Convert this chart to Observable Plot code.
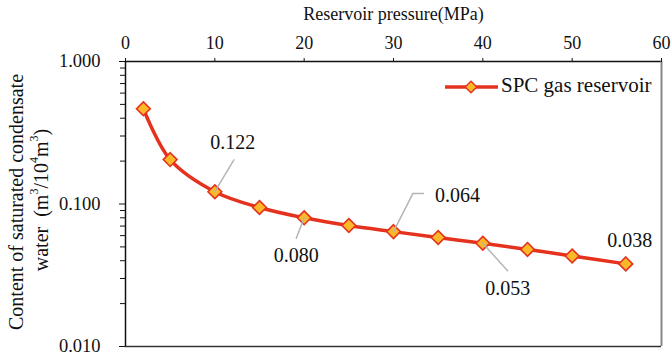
<!DOCTYPE html>
<html>
<head>
<meta charset="utf-8">
<script src="https://cdn.jsdelivr.net/npm/d3@7"></script>
<script src="https://cdn.jsdelivr.net/npm/@observablehq/plot@0.6"></script>
<style>
  html, body { margin: 0; padding: 0; background: #fff; }
  #chart svg { display: block; }
  #chart svg text { font-family: "Liberation Serif", "Times New Roman", serif !important; }
  #chart svg g[aria-label="x-axis tick label"] text { font-size: 18px !important; }
  #chart svg g[aria-label="y-axis tick label"] text { font-size: 18.5px !important; }
</style>
</head>
<body>
<div id="chart"></div>
<script>
// ---- data ----
const pressure = [2, 5, 10, 15, 20, 25, 30, 35, 40, 45, 50, 56];
const water = [0.466, 0.205, 0.122, 0.0945, 0.080, 0.0706, 0.064, 0.0582, 0.053, 0.048, 0.0432, 0.038];
const xTicks = [0, 10, 20, 30, 40, 50, 60];
const yTicks = [0.01, 0.1, 1];
const yMinorTicks = [0.02,0.03,0.04,0.05,0.06,0.07,0.08,0.09,0.2,0.3,0.4,0.5,0.6,0.7,0.8,0.9];
const labelPressure = [10, 20, 30, 40, 56];
const labelText = ["0.122", "0.080", "0.064", "0.053", "0.038"];
const seriesName = "SPC gas reservoir";

const data = pressure.map((p, i) => ({p, w: water[i]}));
const labels = labelPressure.map((p, i) => ({p, w: water[pressure.indexOf(p)], t: labelText[i]}));

const FONT = "Liberation Serif, Times New Roman, serif";
const LINE = "#e5321f";
const FILL = "#fbb829";
const LEADER = "#b5b5b5";
const segment = {draw(context, l) { context.moveTo(0, 0); context.lineTo(0, -l); }};

// label offsets (pixels) relative to each labelled point
const lab = [
  {dx: 18, dy: -49, vl: 37, vr: 31},
  {dx: -8, dy: 38, vl: 22, vr: 201},
  {dx: 64, dy: -36, vl: 42, vr: 27},
  {dx: 25, dy: 45, vl: 37, vr: 138},
  {dx: 4, dy: -23, vl: 0, vr: 0}
];

const marks = [
  Plot.ruleY([1], {stroke: "#111", strokeWidth: 1.5}),
  Plot.ruleX([0], {stroke: "#111", strokeWidth: 1.5}),
  Plot.ruleY([0.01], {stroke: "#333", strokeWidth: 1.5}),
  Plot.ruleX([60], {stroke: "#888", strokeWidth: 2}),
  Plot.axisX({anchor: "top", ticks: xTicks, tickSize: 4, tickPadding: 9, label: null, fontSize: 18, stroke: "#111"}),
  Plot.axisY({ticks: yMinorTicks, tickSize: 5, tickFormat: () => "", label: null, stroke: "#111"}),
  Plot.axisY({ticks: yTicks, tickSize: 6, tickPadding: 19, tickFormat: d3.format(".3f"), label: null, fontSize: 18.5, stroke: "#111"}),
  Plot.line(data, {x: "p", y: "w", stroke: LINE, strokeWidth: 3.5, curve: "catmull-rom"}),
  Plot.dot(data, {x: "p", y: "w", symbol: "diamond2", r: 6.2, fill: FILL, stroke: LINE, strokeWidth: 1.6})
];

labels.forEach((d, i) => {
  const o = lab[i];
  if (o.vl > 0) {
    marks.push(Plot.vector([d], {x: "p", y: "w", length: o.vl, rotate: o.vr, anchor: "start", shape: segment, stroke: LEADER, strokeWidth: 1.5}));
  }
  if (i === 2) {
    marks.push(Plot.vector([d], {x: "p", y: "w", dx: 19, dy: -38, length: 11, rotate: 90, anchor: "start", shape: segment, stroke: LEADER, strokeWidth: 1.5}));
  }
  marks.push(Plot.text([d], {x: "p", y: "w", text: "t", dx: o.dx, dy: o.dy, fontSize: 20, fill: "#111", textAnchor: "middle", lineAnchor: "middle"}));
});

marks.push(Plot.text([seriesName], {frameAnchor: "top", dy: -47, text: () => "Reservoir pressure(MPa)", fontSize: 18, fill: "#111", lineAnchor: "middle"}));

const chart = Plot.plot({
  width: 671,
  height: 359,
  marginLeft: 125,
  marginRight: 10,
  marginTop: 61,
  marginBottom: 13,
  style: {fontFamily: FONT, fontSize: "18px", color: "#111", background: "#fff"},
  x: {domain: [0, 60]},
  y: {type: "log", domain: [0.01, 1]},
  marks
});

document.getElementById("chart").appendChild(chart);

// y-axis title with superscripts, and legend
const svg = d3.select(chart);
svg.append("text")
  .attr("transform", "translate(18,202) rotate(-90)")
  .attr("text-anchor", "middle").attr("dominant-baseline", "middle")
  .attr("font-family", FONT).attr("font-size", 20).attr("fill", "#111")
  .text("Content of saturated condensate");
const t2 = svg.append("text")
  .attr("transform", "translate(43,200) rotate(-90)")
  .attr("text-anchor", "middle").attr("dominant-baseline", "middle")
  .attr("font-family", FONT).attr("font-size", 20).attr("fill", "#111");
t2.append("tspan").text("water\u00a0\u00a0(m");
t2.append("tspan").attr("font-size", 12).attr("dy", -8).text("3");
t2.append("tspan").attr("dy", 8).text("/10");
t2.append("tspan").attr("font-size", 12).attr("dy", -8).text("4");
t2.append("tspan").attr("dy", 8).text("m");
t2.append("tspan").attr("font-size", 12).attr("dy", -8).text("3");
t2.append("tspan").attr("dy", 8).text(")");

const lg = svg.append("g");
lg.append("line").attr("x1", 445).attr("x2", 498).attr("y1", 87).attr("y2", 87)
  .attr("stroke", LINE).attr("stroke-width", 3.5);
lg.append("path").attr("d", d3.symbol(d3.symbolDiamond2, Math.PI * 5.2 * 5.2)())
  .attr("transform", "translate(471,87)")
  .attr("fill", FILL).attr("stroke", LINE).attr("stroke-width", 1.4);
lg.append("text").attr("x", 501).attr("y", 87).attr("dominant-baseline", "middle")
  .attr("text-anchor", "start")
  .attr("font-family", FONT).attr("font-size", 21).attr("fill", "#111").text(seriesName);
</script>
</body>
</html>
